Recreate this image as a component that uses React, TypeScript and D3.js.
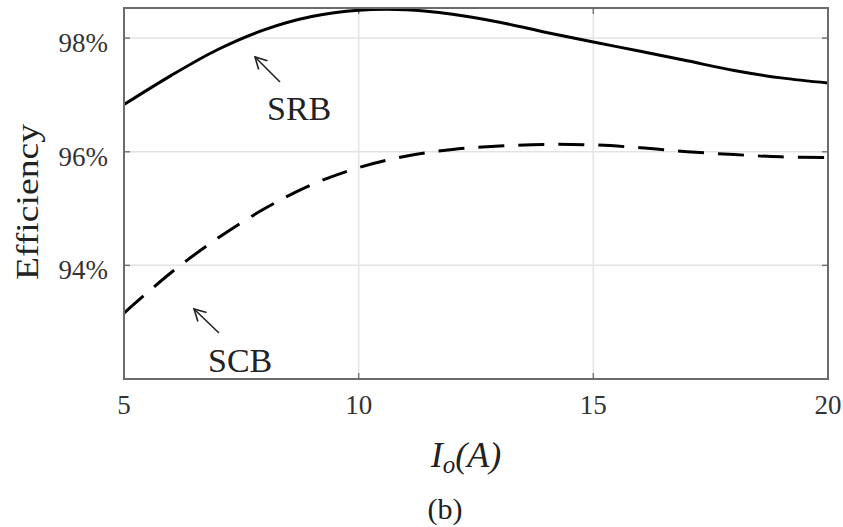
import * as React from 'react';
import * as d3 from 'd3';

// load current Io (A)
const currents = [5, 6, 7, 8, 9, 10, 11, 12, 13, 14, 15, 16, 17, 18, 19, 20];
// efficiency (%)
const srb = [96.83, 97.34, 97.8, 98.15, 98.38, 98.49, 98.5, 98.42, 98.28, 98.1, 97.93, 97.77, 97.6, 97.43, 97.3, 97.21];
const scb = [93.16, 93.87, 94.48, 95.0, 95.42, 95.72, 95.92, 96.04, 96.1, 96.13, 96.12, 96.07, 96.0, 95.95, 95.91, 95.9];
const xTicks = [5, 10, 15, 20];
const yTicks = [94, 96, 98];

const W = 843, H = 527;
const margin = { top: 8, right: 15, bottom: 148, left: 124 };
const FONT = '"Liberation Serif", "DejaVu Serif", serif';

export default function App() {
  const ref = React.useRef<SVGSVGElement>(null);

  React.useEffect(() => {
    const svg = d3.select(ref.current);
    svg.selectAll('*').remove();

    const width = W - margin.left - margin.right;
    const height = H - margin.top - margin.bottom;

    const x = d3.scaleLinear().domain([5, 20]).range([0, width]);
    const y = d3.scaleLinear().domain([92, 98.53]).range([height, 0]);

    const g = svg.append('g').attr('transform', `translate(${margin.left},${margin.top})`);

    // grid
    g.selectAll('.vgrid')
      .data(xTicks.slice(1, -1))
      .enter().append('line')
      .attr('x1', d => x(d)).attr('x2', d => x(d))
      .attr('y1', 0).attr('y2', height)
      .attr('stroke', '#e3e3e3').attr('stroke-width', 1.5);
    g.selectAll('.hgrid')
      .data(yTicks)
      .enter().append('line')
      .attr('x1', 0).attr('x2', width)
      .attr('y1', d => y(d)).attr('y2', d => y(d))
      .attr('stroke', '#e3e3e3').attr('stroke-width', 1.5);

    // tick marks (inward, all four sides)
    const tk = 6;
    xTicks.forEach(t => {
      g.append('line').attr('x1', x(t)).attr('x2', x(t)).attr('y1', height).attr('y2', height - tk)
        .attr('stroke', '#777').attr('stroke-width', 1.5);
      g.append('line').attr('x1', x(t)).attr('x2', x(t)).attr('y1', 0).attr('y2', tk)
        .attr('stroke', '#777').attr('stroke-width', 1.5);
    });
    yTicks.forEach(t => {
      g.append('line').attr('x1', 0).attr('x2', tk).attr('y1', y(t)).attr('y2', y(t))
        .attr('stroke', '#777').attr('stroke-width', 1.5);
      g.append('line').attr('x1', width).attr('x2', width - tk).attr('y1', y(t)).attr('y2', y(t))
        .attr('stroke', '#777').attr('stroke-width', 1.5);
    });

    // curves
    const line = d3.line<number>()
      .x((d, i) => x(currents[i]))
      .y(d => y(d))
      .curve(d3.curveCatmullRom.alpha(0.5));

    g.append('path').datum(srb).attr('d', line)
      .attr('fill', 'none').attr('stroke', '#000').attr('stroke-width', 3);
    g.append('path').datum(scb).attr('d', line)
      .attr('fill', 'none').attr('stroke', '#000').attr('stroke-width', 3)
      .attr('stroke-dasharray', '26,14');

    // box
    g.append('rect').attr('x', 0).attr('y', 0).attr('width', width).attr('height', height)
      .attr('fill', 'none').attr('stroke', '#6b6b6b').attr('stroke-width', 2);

    // tick labels
    g.selectAll('.xl').data(xTicks).enter().append('text')
      .attr('x', d => x(d)).attr('y', height + 35)
      .attr('text-anchor', 'middle')
      .style('font-family', FONT).style('font-size', '27px').style('fill', '#333')
      .text(d => d);
    g.selectAll('.yl').data(yTicks).enter().append('text')
      .attr('x', -16).attr('y', d => y(d) + 14)
      .attr('text-anchor', 'end')
      .style('font-family', FONT).style('font-size', '27px').style('fill', '#333')
      .text(d => d + '%');

    // y axis title
    svg.append('text')
      .attr('transform', 'translate(38,202) rotate(-90)')
      .attr('text-anchor', 'middle')
      .attr('textLength', 156).attr('lengthAdjust', 'spacingAndGlyphs')
      .style('font-family', FONT).style('font-size', '31px').style('fill', '#222')
      .text('Efficiency');

    // x axis title
    const xt = svg.append('text')
      .attr('x', 466).attr('y', 467)
      .attr('text-anchor', 'middle')
      .style('font-family', FONT).style('font-size', '36px').style('fill', '#222')
      .style('font-style', 'italic');
    xt.append('tspan').text('I');
    xt.append('tspan').attr('dy', 6).style('font-size', '25px').text('o');
    xt.append('tspan').attr('dy', -6).text('(A)');

    // caption
    svg.append('text')
      .attr('x', 445).attr('y', 519)
      .attr('text-anchor', 'middle')
      .style('font-family', FONT).style('font-size', '30px').style('fill', '#222')
      .text('(b)');

    // annotations
    const arrow = (x1: number, y1: number, x2: number, y2: number) => {
      svg.append('line').attr('x1', x1).attr('y1', y1).attr('x2', x2).attr('y2', y2)
        .attr('stroke', '#222').attr('stroke-width', 1.6);
      const a = Math.atan2(y2 - y1, x2 - x1);
      const L = 13, s = 0.5;
      svg.append('path')
        .attr('d', `M${x2 - L * Math.cos(a - s)},${y2 - L * Math.sin(a - s)}L${x2},${y2}L${x2 - L * Math.cos(a + s)},${y2 - L * Math.sin(a + s)}`)
        .attr('fill', 'none').attr('stroke', '#222').attr('stroke-width', 1.6);
    };
    arrow(280, 82, 255, 57);
    arrow(219, 333, 194, 309);

    svg.append('text').attr('x', 267).attr('y', 120)
      .style('font-family', FONT).style('font-size', '34px').style('fill', '#222')
      .text('SRB');
    svg.append('text').attr('x', 208).attr('y', 372)
      .style('font-family', FONT).style('font-size', '34px').style('fill', '#222')
      .text('SCB');
  }, []);

  return (
    <div>
      <svg ref={ref} width={W} height={H}
        style={{ position: 'absolute', left: 0, top: 0, background: '#fff' }} />
    </div>
  );
}
